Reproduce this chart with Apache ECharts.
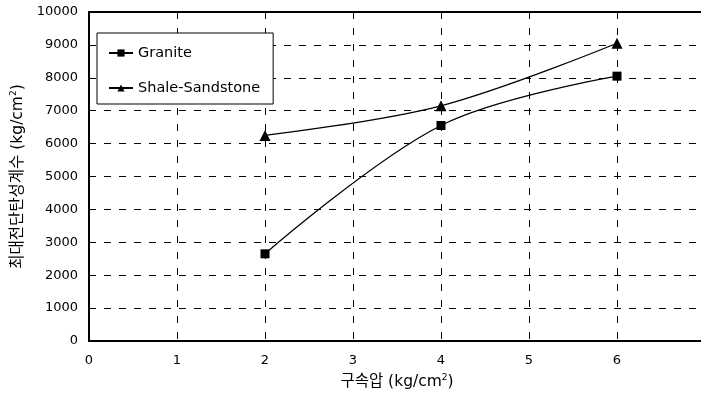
<!DOCTYPE html>
<html>
<head>
<meta charset="utf-8">
<script src="https://cdn.jsdelivr.net/npm/echarts@6/dist/echarts.min.js"></script>
<style>
  html, body { margin: 0; padding: 0; background: #fff; }
  #chart { width: 701px; height: 394px; }
</style>
</head>
<body>
<div id="chart"></div>
<script>
// Confining pressure (kg/cm^2)
const pressures = [2, 4, 6];
// Maximum shear modulus (kg/cm^2)
const graniteValues = [2650, 6550, 8050];
const shaleValues = [6250, 7150, 9050];
const seriesNames = ['Granite', 'Shale-Sandstone'];
const xTickLabels = ['0', '1', '2', '3', '4', '5', '6'];
const yTickValues = [0, 1000, 2000, 3000, 4000, 5000, 6000, 7000, 8000, 9000, 10000];

const font = 'DejaVu Sans, Noto Sans CJK KR, sans-serif';

const chart = echarts.init(document.getElementById('chart'), null, { renderer: 'canvas' });

chart.setOption({
  backgroundColor: '#fff',
  animation: false,
  textStyle: { fontFamily: font, color: '#000' },
  grid: {
    left: 89, top: 12, width: 616, height: 329,
    outerBoundsMode: 'none',
    containLabel: false,
    show: true, borderColor: '#000', borderWidth: 2,
    backgroundColor: 'transparent'
  },
  legend: {
    orient: 'vertical',
    left: 97, top: 33,
    padding: [12, 13, 8, 11],
    itemGap: 19,
    itemWidth: 24, itemHeight: 9,
    borderColor: '#000', borderWidth: 1,
    backgroundColor: '#fff',
    data: seriesNames,
    textStyle: { fontFamily: font, fontSize: 14.5, color: '#000', lineHeight: 16 }
  },
  xAxis: {
    type: 'value',
    min: 0, max: 7, interval: 1,
    name: '구속압 (kg/cm{sup|2})',
    nameLocation: 'middle',
    nameGap: 32,
    nameTextStyle: {
      fontFamily: font, fontSize: 15.5, color: '#000',
      rich: { sup: { fontSize: 9, padding: [0, 0, 9, 0], fontFamily: font } }
    },
    axisLine: { show: true, lineStyle: { color: '#000', width: 2 } },
    axisTick: { show: false },
    axisLabel: {
      fontFamily: font, fontSize: 13, color: '#000', margin: 13,
      formatter: v => (v < xTickLabels.length ? xTickLabels[v] : '')
    },
    splitLine: { show: true, lineStyle: { color: '#000', type: [7, 9], width: 1 } }
  },
  yAxis: {
    type: 'value',
    min: yTickValues[0], max: yTickValues[yTickValues.length - 1], interval: 1000,
    name: '최대전단탄성계수 (kg/cm{sup|2})',
    nameLocation: 'middle',
    nameGap: 62,
    nameRotate: 90,
    nameTextStyle: {
      fontFamily: font, fontSize: 15.5, color: '#000',
      rich: { sup: { fontSize: 9, padding: [0, 0, 9, 0], fontFamily: font } }
    },
    axisLine: { show: true, lineStyle: { color: '#000', width: 2 } },
    axisTick: { show: false },
    axisLabel: {
      fontFamily: font, fontSize: 13, color: '#000', margin: 11,
      formatter: v => String(v)
    },
    splitLine: { show: true, lineStyle: { color: '#000', type: [7, 8], width: 1 } }
  },
  series: [
    {
      name: seriesNames[0],
      type: 'line',
      smooth: 0.35,
      symbol: 'rect',
      symbolSize: 9,
      itemStyle: { color: '#000' },
      lineStyle: { color: '#000', width: 1.3 },
      data: pressures.map((p, i) => [p, graniteValues[i]])
    },
    {
      name: seriesNames[1],
      type: 'line',
      smooth: 0.35,
      symbol: 'triangle',
      symbolSize: 11,
      itemStyle: { color: '#000' },
      lineStyle: { color: '#000', width: 1.3 },
      data: pressures.map((p, i) => [p, shaleValues[i]])
    }
  ]
});
</script>
</body>
</html>
